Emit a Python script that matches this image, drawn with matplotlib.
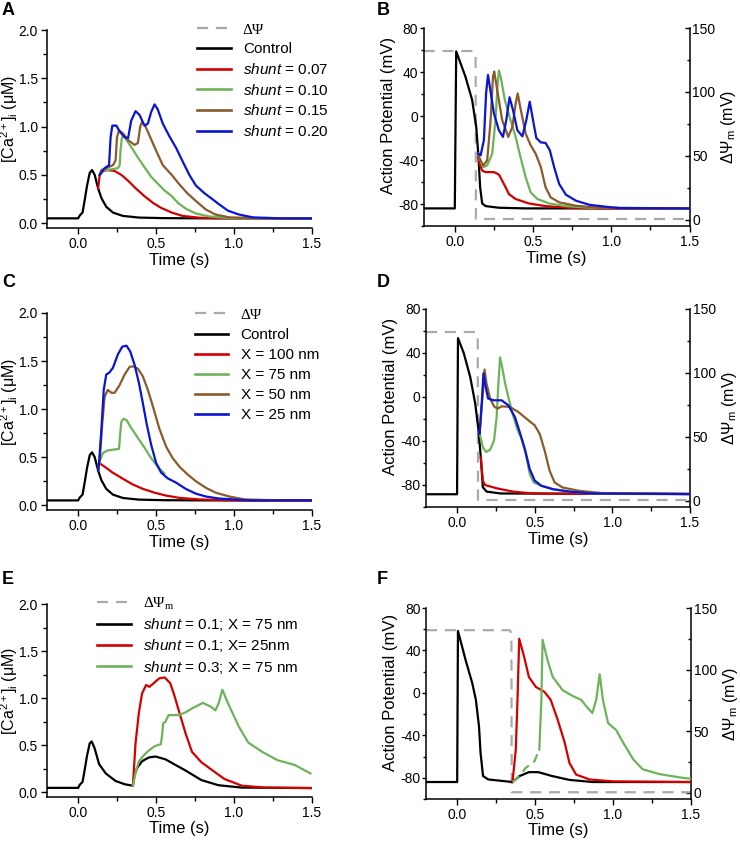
import numpy as np
import matplotlib
matplotlib.use("Agg")
import matplotlib.pyplot as plt
from matplotlib.lines import Line2D
from matplotlib.ticker import MultipleLocator

plt.rcParams['font.family'] = ['Liberation Sans', 'DejaVu Sans']
plt.rcParams['mathtext.fontset'] = 'custom'
plt.rcParams['mathtext.rm'] = 'Liberation Sans'
plt.rcParams['mathtext.it'] = 'Liberation Sans:italic'
plt.rcParams['mathtext.bf'] = 'Liberation Sans:bold'
plt.rcParams['axes.unicode_minus'] = False

# ---------------- data ----------------
# Ca2+ transient, control beat (panels A and C)
ca_ctrl_t = [-0.2, 0.0, 0.01, 0.028, 0.043, 0.057, 0.074, 0.089, 0.106, 0.128, 0.149,
             0.18, 0.223, 0.287, 0.39, 0.55, 0.8, 1.5]
ca_ctrl = [0.05, 0.05, 0.08, 0.11, 0.25, 0.39, 0.52, 0.55, 0.5, 0.36, 0.26,
           0.17, 0.11, 0.075, 0.058, 0.052, 0.05, 0.05]

# Panel A: shunt values
a_t_007 = [0.128, 0.138, 0.16, 0.19, 0.234, 0.277, 0.32, 0.37, 0.425, 0.48, 0.53, 0.6,
           0.67, 0.78, 1.0, 1.5]
a_ca_007 = [0.36, 0.5, 0.54, 0.55, 0.54, 0.5, 0.44, 0.36, 0.28, 0.21, 0.16, 0.11,
            0.075, 0.056, 0.05, 0.05]
a_t_010 = [0.138, 0.149, 0.18, 0.223, 0.255, 0.266, 0.272, 0.28, 0.29, 0.31, 0.34, 0.383,
           0.425, 0.468, 0.51, 0.553, 0.6, 0.64, 0.69, 0.755, 0.84, 1.0, 1.5]
a_ca_010 = [0.5, 0.54, 0.55, 0.56, 0.57, 0.6, 0.76, 0.88, 0.91, 0.86, 0.79, 0.68,
            0.58, 0.48, 0.41, 0.34, 0.28, 0.21, 0.15, 0.1, 0.07, 0.05, 0.05]
a_t_015 = [0.138, 0.149, 0.18, 0.223, 0.24, 0.249, 0.262, 0.287, 0.32, 0.362, 0.383,
           0.398, 0.41, 0.432, 0.457, 0.5, 0.543, 0.6, 0.65, 0.7, 0.755, 0.82, 0.88,
           0.97, 1.2, 1.5]
a_ca_015 = [0.5, 0.55, 0.57, 0.6, 0.65, 0.89, 0.96, 0.93, 0.86, 0.81, 0.83,
            1.0, 1.05, 1.0, 0.91, 0.75, 0.6, 0.5, 0.4, 0.31, 0.23, 0.14, 0.09,
            0.06, 0.05, 0.05]
a_t_020 = [0.138, 0.17, 0.198, 0.208, 0.219, 0.245, 0.266, 0.298, 0.32, 0.34, 0.368,
           0.394, 0.425, 0.447, 0.468, 0.49, 0.51, 0.543, 0.585, 0.628, 0.67, 0.713,
           0.755, 0.81, 0.86, 0.9, 0.96, 1.03, 1.12, 1.3, 1.5]
a_ca_020 = [0.5, 0.57, 0.6, 0.89, 1.01, 1.01, 0.95, 0.89, 0.88, 1.06, 1.16,
            1.12, 1.01, 1.03, 1.15, 1.23, 1.18, 1.03, 0.9, 0.78, 0.64, 0.5,
            0.39, 0.31, 0.25, 0.2, 0.13, 0.09, 0.06, 0.05, 0.05]

# Panel B: action potentials (mV)
b_ctrl_t = [-0.2, 0.0, 0.009, 0.068, 0.111, 0.137, 0.15, 0.162, 0.175, 0.197, 0.282,
            0.453, 1.5]
b_ctrl_v = [-84, -84, 58.7, 35.8, 14.5, -10, -34.3, -64.8, -79.5, -81.9, -83.4, -84, -84]
b_t_007 = [0.15, 0.158, 0.175, 0.197, 0.25, 0.282, 0.314, 0.346, 0.389, 0.474, 0.58,
           0.73, 0.88, 1.5]
b_v_007 = [-34.3, -43.5, -49.6, -51, -51, -53.2, -61.8, -71, -75.5, -79.5, -81.9,
           -83.4, -84, -84]
b_t_010 = [0.15, 0.154, 0.182, 0.207, 0.239, 0.26, 0.274, 0.282, 0.295, 0.32, 0.35,
           0.389, 0.42, 0.453, 0.485, 0.528, 0.603, 0.71, 0.86, 1.5]
b_v_010 = [-34.3, -37.4, -46.5, -45, -34.3, -3.8, 29.7, 41.3, 34.3, 14.5, -0.8,
           -19, -37.4, -55.7, -69.4, -75.5, -79.5, -81.9, -83.4, -84]
b_t_015 = [0.15, 0.154, 0.182, 0.207, 0.229, 0.244, 0.252, 0.271, 0.303, 0.342, 0.368,
           0.389, 0.402, 0.42, 0.453, 0.485, 0.517, 0.55, 0.58, 0.613, 0.667, 0.774,
           0.923, 1.5]
b_v_015 = [-34.3, -37.4, -45, -40.4, -3.8, 35.8, 40.4, 23.6, -3.8, -19, -10,
           11.4, 20.5, 6.8, -16, -26.7, -34.3, -46.5, -64.8, -74, -78.5, -81.6,
           -83.4, -84]
b_t_020 = [0.15, 0.165, 0.186, 0.2, 0.212, 0.224, 0.25, 0.282, 0.308, 0.329, 0.35,
           0.372, 0.4, 0.432, 0.457, 0.479, 0.5, 0.521, 0.55, 0.58, 0.607, 0.635,
           0.667, 0.71, 0.774, 0.86, 0.966, 1.05, 1.5]
b_v_020 = [-34.3, -35.8, -22, 20.5, 37.3, 26.6, 2.3, -13, -19, -3.8, 17,
           5.3, -13, -18.5, -3.8, 13, -3.8, -20, -24, -24.5, -31, -46.5,
           -61.8, -71.5, -77, -80.7, -82.5, -83.7, -84]

# mitochondrial membrane potential (mV), panels B and D
psi_t = [-0.2, 0.12, 0.128, 0.133, 0.135, 1.5]
psi_v = [132, 132, 131, 128, 0.5, 0.5]

# Panel C: distance X
c_t_100 = [0.128, 0.134, 0.17, 0.223, 0.287, 0.351, 0.415, 0.49, 0.564, 0.65, 0.777,
           1.0, 1.5]
c_ca_100 = [0.36, 0.44, 0.4, 0.337, 0.275, 0.215, 0.17, 0.13, 0.1, 0.076, 0.06,
            0.05, 0.05]
c_t_075 = [0.128, 0.138, 0.16, 0.19, 0.234, 0.262, 0.27, 0.277, 0.291, 0.31, 0.34,
           0.383, 0.425, 0.468, 0.51, 0.553]
c_ca_075 = [0.36, 0.46, 0.545, 0.57, 0.58, 0.585, 0.75, 0.87, 0.9, 0.885, 0.805,
            0.7, 0.6, 0.49, 0.4, 0.33]
c_t_050 = [0.128, 0.138, 0.155, 0.17, 0.19, 0.213, 0.234, 0.266, 0.298, 0.33, 0.355,
           0.383, 0.415, 0.447, 0.479, 0.52, 0.564, 0.606, 0.65, 0.702, 0.755, 0.82,
           0.883, 0.97, 1.07, 1.3, 1.5]
c_ca_050 = [0.36, 0.47, 0.86, 1.13, 1.2, 1.17, 1.17, 1.25, 1.36, 1.44, 1.445,
            1.42, 1.34, 1.2, 1.03, 0.8, 0.61, 0.49, 0.4, 0.32, 0.25, 0.18,
            0.13, 0.09, 0.06, 0.05, 0.05]
c_t_025 = [0.128, 0.134, 0.149, 0.164, 0.18, 0.2, 0.223, 0.255, 0.283, 0.31, 0.334,
           0.362, 0.39, 0.415, 0.44, 0.468, 0.5, 0.532, 0.574, 0.628, 0.69, 0.755,
           0.82, 0.9, 1.1, 1.5]
c_ca_025 = [0.36, 0.44, 0.79, 1.2, 1.36, 1.38, 1.43, 1.57, 1.65, 1.66, 1.6,
            1.46, 1.27, 1.06, 0.84, 0.63, 0.44, 0.34, 0.28, 0.235, 0.17, 0.12,
            0.09, 0.07, 0.05, 0.05]

# Panel D: action potentials (mV)
d_ctrl_t = [-0.2, 0.0, 0.006, 0.043, 0.085, 0.117, 0.138, 0.153, 0.166, 0.19, 0.28, 1.5]
d_ctrl_v = [-88.4, -88.4, 53.5, 40, 18, -6, -30, -55, -82, -86, -87.7, -88.2]
d_t_100 = [0.153, 0.166, 0.18, 0.255, 0.36, 0.47, 0.6, 1.5]
d_v_100 = [-55, -76, -80, -83, -86, -87.5, -88, -88.2]
d_t_075 = [0.145, 0.166, 0.187, 0.213, 0.238, 0.255, 0.266, 0.277, 0.29, 0.31, 0.33,
           0.357, 0.387, 0.415, 0.443, 0.468, 0.494, 0.543, 0.617, 0.723, 0.87, 1.5]
d_v_075 = [-33, -45.7, -50, -48, -39.6, -18, 12, 36, 27.5, 12, 0,
           -15, -29, -38, -51.8, -70, -77.7, -80.7, -83.8, -86, -87.7, -88.2]
d_t_050 = [0.14, 0.145, 0.162, 0.177, 0.19, 0.213, 0.238, 0.26, 0.287, 0.34, 0.394,
           0.447, 0.5, 0.532, 0.564, 0.596, 0.628, 0.68, 0.787, 0.936, 1.5]
d_v_050 = [-31, -33.5, -3, 25, 12, -1.4, -8.5, -10.6, -8.5, -9, -13.6,
           -19.7, -25.8, -33.5, -48.7, -67, -77.7, -82.3, -85.3, -87.4, -88.2]
d_t_025 = [0.14, 0.145, 0.16, 0.17, 0.181, 0.2, 0.234, 0.287, 0.33, 0.372, 0.404,
           0.436, 0.468, 0.5, 0.543, 0.617, 0.723, 0.87, 1.5]
d_v_025 = [-31, -33.5, -3, 21.5, 11, -1.4, -3, -3, -7.5, -18, -32,
           -47, -65.5, -76, -80.7, -83.8, -86, -87.7, -88.2]

# Panel E: second stimulus (Ca2+)
e_t_a = [-0.2, 0.0, 0.01, 0.028, 0.043, 0.057, 0.074, 0.087, 0.105, 0.134, 0.177,
         0.24, 0.3, 0.351, 0.36, 0.379, 0.41, 0.453, 0.496, 0.56, 0.69, 0.79, 0.9,
         1.05, 1.5]
e_ca_a = [0.047, 0.047, 0.08, 0.11, 0.25, 0.39, 0.52, 0.54, 0.47, 0.3, 0.2,
          0.12, 0.085, 0.07, 0.18, 0.26, 0.33, 0.37, 0.38, 0.35, 0.23, 0.13, 0.075,
          0.05, 0.045]
e_t_b = [0.351, 0.368, 0.389, 0.41, 0.436, 0.457, 0.485, 0.52, 0.555, 0.59, 0.615,
         0.645, 0.69, 0.73, 0.79, 0.88, 0.94, 1.05, 1.2, 1.5]
e_ca_b = [0.07, 0.52, 0.84, 1.05, 1.14, 1.12, 1.16, 1.21, 1.22, 1.16, 1.04,
          0.87, 0.62, 0.43, 0.32, 0.21, 0.14, 0.07, 0.05, 0.045]
e_t_c = [0.351, 0.37, 0.39, 0.42, 0.45, 0.49, 0.53, 0.538, 0.545, 0.56, 0.58, 0.6,
         0.645, 0.69, 0.73, 0.8, 0.85, 0.88, 0.9, 0.925, 0.96, 1.03, 1.09, 1.18,
         1.28, 1.39, 1.49]
e_ca_c = [0.07, 0.22, 0.33, 0.39, 0.44, 0.49, 0.51, 0.6, 0.73, 0.75, 0.82, 0.82,
          0.82, 0.85, 0.89, 0.95, 0.91, 0.87, 0.94, 1.09, 0.95, 0.7, 0.53, 0.43,
          0.34, 0.29, 0.2]

# Panel F: action potentials (mV)
f_t_a = [-0.2, 0.0, 0.005, 0.054, 0.097, 0.12, 0.14, 0.15, 0.166, 0.2, 0.29, 0.355,
         0.4, 0.46, 0.52, 0.61, 0.72, 0.87, 1.5]
f_v_a = [-84, -84, 58.4, 31, 9, -6.6, -31.6, -56.6, -78.4, -81.6, -83, -84,
         -78.4, -74.7, -74.7, -78.4, -82, -84, -84]
f_t_b = [0.355, 0.376, 0.387, 0.398, 0.43, 0.46, 0.505, 0.56, 0.6, 0.645, 0.69, 0.72,
         0.763, 0.85, 1.0, 1.5]
f_v_b = [-84, -53.5, -6.6, 51, 33.8, 15, 5.6, 1, -6.6, -25.4, -47, -66,
         -77, -81.6, -83.4, -84]
# green: slow (dashed-looking) pre-spike ramp, then the spike train
f_t_c_ramp = [0.355, 0.376, 0.44, 0.495, 0.527]
f_v_c_ramp = [-84, -81.6, -70.7, -64.5, -53.5]
f_t_c = [0.527, 0.54, 0.548, 0.58, 0.613, 0.677, 0.742,
         0.796, 0.83, 0.867, 0.892, 0.914, 0.935, 0.968, 1.02, 1.065, 1.13, 1.19,
         1.3, 1.43, 1.5]
f_v_c = [-53.5, -6.6, 50, 30.6, 15, 2.5, -3,
         -6.6, -12.9, -19, -6.6, 17.6, -6.6, -28.5, -35, -47, -62.7, -72,
         -76.6, -79.7, -81]
f_psi_t = [-0.2, 0.335, 0.343, 0.348, 0.35, 1.5]
f_psi_v = [132, 132, 131, 128, 0.5, 0.5]

# ---------------- styling ----------------
BLACK = '#000000'
RED = '#d40000'
GREEN = '#6cb35a'
BROWN = '#8b5a2b'
BLUE = '#0a14d2'
GREY = '#aaaaaa'
LW = 1.6
DASH = (0, (5, 3.5))
W, H = 740, 842


def rect(l, t, r, b):
    return [l / W, 1 - b / H, (r - l) / W, (b - t) / H]


def style(ax, kind):
    ax.set_xlim(-0.2, 1.5)
    ax.set_xticks([0, 0.5, 1.0, 1.5])
    ax.set_xticklabels(['0.0', '0.5', '1.0', '1.5'])
    ax.xaxis.set_minor_locator(MultipleLocator(0.25))
    for s in ['top', 'right']:
        ax.spines[s].set_visible(False)
    for s in ['left', 'bottom']:
        ax.spines[s].set_linewidth(1.1)
    ax.tick_params(which='both', direction='out', width=1.0, labelsize=10)
    ax.tick_params(axis='x', which='major', length=4.5, pad=2)
    ax.tick_params(axis='x', which='minor', length=3)
    if kind == 'ca':
        ax.set_ylim(-0.05, 2.0)
        ax.set_yticks([0, 0.5, 1.0, 1.5, 2.0])
        ax.set_yticklabels(['0.0', '0.5', '1.0', '1.5', '2.0'])
        ax.yaxis.set_minor_locator(MultipleLocator(0.25))
        ax.tick_params(axis='y', which='major', length=4.5, pad=2)
        ax.tick_params(axis='y', which='minor', length=3)
        ax.set_ylabel(r'[Ca$^{2+}$]$_\mathregular{i}$ (μM)', fontsize=11.5)
        ax.yaxis.set_label_coords(-0.1, 0.55)
    else:
        ax.set_ylim(-100, 80)
        ax.set_yticks([-80, -40, 0, 40, 80])
        ax.yaxis.set_minor_locator(MultipleLocator(20))
        ax.tick_params(axis='y', which='major', length=3, pad=0.8)
        ax.tick_params(axis='y', which='minor', length=2.5)
        ax.set_ylabel('Action Potential (mV)', fontsize=12)
        ax.yaxis.set_label_coords(-0.105, 0.56)
    ax.set_xlabel('Time (s)', fontsize=12)
    ax.xaxis.set_label_coords(0.5, -0.125)


def add_psi(ax, t, v):
    ax2 = ax.twinx()
    ax2.plot(t, v, color=GREY, lw=LW, ls=DASH)
    ax2.set_ylim(-5, 150)
    ax2.set_yticks([0, 50, 100, 150])
    ax2.yaxis.set_minor_locator(MultipleLocator(25))
    for s in ['top', 'left', 'bottom']:
        ax2.spines[s].set_visible(False)
    ax2.spines['right'].set_linewidth(1.1)
    ax2.tick_params(which='both', direction='in', width=1.0, labelsize=10, pad=2)
    ax2.tick_params(which='major', length=3.5)
    ax2.tick_params(which='minor', length=2.5)
    ax2.set_ylabel('ΔΨ$_\\mathregular{m}$ (mV)', fontsize=11.5)
    ax2.yaxis.set_label_coords(1.112, 0.5)
    ax.set_zorder(ax2.get_zorder() + 1)
    ax.patch.set_visible(False)


def add_legend(ax, colors, labels, x, y, psi_label, spacing=0.37):
    handles = [Line2D([], [], color=GREY, lw=LW, ls=DASH)]
    handles += [Line2D([], [], color=c, lw=LW + 0.3) for c in colors]
    leg = ax.legend(handles, [psi_label] + labels, loc='upper left',
                    bbox_to_anchor=(x, y), frameon=False, fontsize=11,
                    handlelength=2.2, handletextpad=0.8, labelspacing=spacing,
                    borderpad=0, borderaxespad=0)
    leg.get_texts()[0].set_family(['Liberation Serif', 'DejaVu Serif'])


fig = plt.figure(figsize=(7.4, 8.42), dpi=100)

# A
axA = fig.add_axes(rect(47, 30, 312, 228))
axA.plot(ca_ctrl_t, ca_ctrl, color=BLACK, lw=LW)
axA.plot(a_t_007, a_ca_007, color=RED, lw=LW)
axA.plot(a_t_010, a_ca_010, color=GREEN, lw=LW)
axA.plot(a_t_015, a_ca_015, color=BROWN, lw=LW)
axA.plot(a_t_020, a_ca_020, color=BLUE, lw=LW)
style(axA, 'ca')
add_legend(axA, [BLACK, RED, GREEN, BROWN, BLUE],
           ['Control', r'$\mathit{shunt}$ = 0.07', r'$\mathit{shunt}$ = 0.10',
            r'$\mathit{shunt}$ = 0.15', r'$\mathit{shunt}$ = 0.20'],
           0.566, 1.035, 'ΔΨ')

# B
axB = fig.add_axes(rect(423.5, 28, 689.5, 226))
axB.plot(b_ctrl_t, b_ctrl_v, color=BLACK, lw=LW)
axB.plot(b_t_007, b_v_007, color=RED, lw=LW)
axB.plot(b_t_010, b_v_010, color=GREEN, lw=LW)
axB.plot(b_t_015, b_v_015, color=BROWN, lw=LW)
axB.plot(b_t_020, b_v_020, color=BLUE, lw=LW)
style(axB, 'ap')
add_psi(axB, psi_t, psi_v)

# C
axC = fig.add_axes(rect(47, 313, 312, 510))
axC.plot(ca_ctrl_t, ca_ctrl, color=BLACK, lw=LW)
axC.plot(c_t_100, c_ca_100, color=RED, lw=LW)
axC.plot(c_t_075, c_ca_075, color=GREEN, lw=LW)
axC.plot(c_t_050, c_ca_050, color=BROWN, lw=LW)
axC.plot(c_t_025, c_ca_025, color=BLUE, lw=LW)
style(axC, 'ca')
add_legend(axC, [BLACK, RED, GREEN, BROWN, BLUE],
           ['Control', 'X = 100 nm', 'X = 75 nm', 'X = 50 nm', 'X = 25 nm'],
           0.558, 1.025, 'ΔΨ', spacing=0.4)

# D
axD = fig.add_axes(rect(426, 309, 690, 507))
axD.plot(d_ctrl_t, d_ctrl_v, color=BLACK, lw=LW)
axD.plot(d_t_100, d_v_100, color=RED, lw=LW)
axD.plot(d_t_075, d_v_075, color=GREEN, lw=LW)
axD.plot(d_t_050, d_v_050, color=BROWN, lw=LW)
axD.plot(d_t_025, d_v_025, color=BLUE, lw=LW)
style(axD, 'ap')
add_psi(axD, psi_t, psi_v)

# E
axE = fig.add_axes(rect(47, 604, 312, 797))
axE.plot(e_t_a, e_ca_a, color=BLACK, lw=LW)
axE.plot(e_t_b, e_ca_b, color=RED, lw=LW)
axE.plot(e_t_c, e_ca_c, color=GREEN, lw=LW)
style(axE, 'ca')
add_legend(axE, [BLACK, RED, GREEN],
           [r'$\mathit{shunt}$ = 0.1; X = 75 nm', r'$\mathit{shunt}$ = 0.1; X= 25nm',
            r'$\mathit{shunt}$ = 0.3; X = 75 nm'],
           0.19, 1.045, 'ΔΨ$_\\mathregular{m}$', spacing=0.28)

# F
axF = fig.add_axes(rect(426, 608, 691, 799))
axF.plot(f_t_a, f_v_a, color=BLACK, lw=LW)
axF.plot(f_t_b, f_v_b, color=RED, lw=LW)
axF.plot(f_t_c_ramp, f_v_c_ramp, color=GREEN, lw=LW, ls=(0, (4, 2.5)))
axF.plot(f_t_c, f_v_c, color=GREEN, lw=LW)
style(axF, 'ap')
add_psi(axF, f_psi_t, f_psi_v)

for lab, x, y in [('A', 2, 2), ('B', 377, 2), ('C', 2, 274), ('D', 377, 274),
                  ('E', 2, 571), ('F', 377, 571)]:
    fig.text(x / W, 1 - y / H, lab, ha='left', va='top', fontsize=13,
             fontweight='bold')

fig.savefig('out.png', dpi=100)
